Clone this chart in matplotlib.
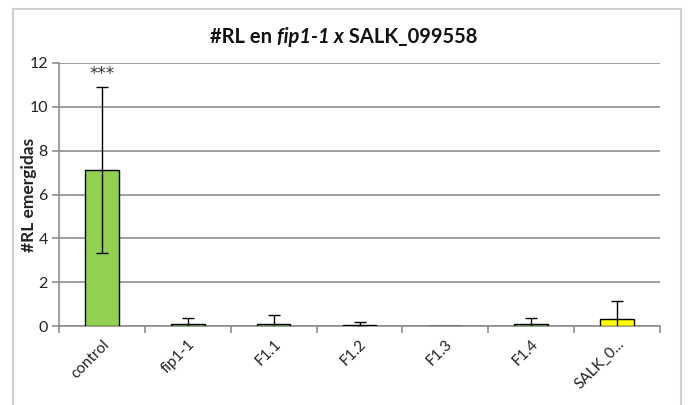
import matplotlib
matplotlib.use("Agg")
import matplotlib.pyplot as plt
from matplotlib.patches import Rectangle
import numpy as np

categories = ["control", "fip1-1", "F1.1", "F1.2", "F1.3", "F1.4", "SALK_0..."]
values = [7.12, 0.08, 0.08, 0.06, 0.0, 0.08, 0.33]
errors = [3.77, 0.30, 0.44, 0.12, 0.0, 0.30, 0.81]
colors = ["#92d050", "#92d050", "#92d050", "#92d050", "#92d050", "#92d050", "#ffff00"]
yticks = [0, 2, 4, 6, 8, 10, 12]
signif = "***"

plt.rcParams['font.family'] = ['Lato', 'DejaVu Sans']

fig = plt.figure(figsize=(6.88, 4.05), dpi=100)
fig.patch.set_facecolor("white")
ax = fig.add_axes([59/688, 1-326/405, (660-59)/688, (326-63)/405])

x = np.arange(len(categories))
vals = np.array(values)
errs = np.array(errors)
ax.bar(x, vals, width=0.39, color=colors, edgecolor="black", linewidth=1.0, zorder=3)
m = errs > 0
ax.errorbar(x[m], vals[m], yerr=errs[m], fmt="none", ecolor="black", elinewidth=1.0,
            capsize=4, capthick=1.0, zorder=4)
ax.text(x[0], vals[0] + errs[0] + 0.2, signif, ha="center", va="bottom",
        fontsize=12, color="#333333", family="DejaVu Sans")

ax.set_ylim(0, 12)
ax.set_xlim(-0.5, len(categories) - 0.5)
ax.set_yticks(yticks)
ax.set_yticklabels([str(v) for v in yticks], fontsize=11.5, color="#222222")
ax.yaxis.grid(True, color="#8e8e8e", linewidth=1.2, zorder=0)
ax.set_axisbelow(True)

ax.set_xticks(x)
ax.set_xticklabels(categories, rotation=45, ha="right", rotation_mode="anchor", fontsize=11,
                   color="#222222")
ax.tick_params(axis="x", which="major", length=0, pad=8)
ax.set_xticks(np.arange(-0.5, len(categories), 1.0), minor=True)
ax.tick_params(axis="x", which="minor", length=5, color="#8e8e8e", width=1.2)
ax.tick_params(axis="y", length=5, color="#8e8e8e", width=1.2, pad=3)

for s in ["top", "right"]:
    ax.spines[s].set_visible(False)
for s in ["left", "bottom"]:
    ax.spines[s].set_color("#8e8e8e")
    ax.spines[s].set_linewidth(1.2)

ax.set_ylabel("#RL emergidas", fontsize=12.5, fontweight="bold", color="#222222")
ax.yaxis.set_label_coords(-0.036, 0.5)

# outer chart frame
fig.add_artist(Rectangle((13/688, -0.05), (681-13)/688, 1-9/405 + 0.05,
                         transform=fig.transFigure, fill=False,
                         edgecolor="#d0d0d0", linewidth=1.5))

# title with italic part
parts = [("#RL en ", "normal"), ("fip1-1 x", "italic"), (" SALK_099558", "normal")]
fig.canvas.draw()
renderer = fig.canvas.get_renderer()
texts = []
widths = []
for s, style in parts:
    t = fig.text(0, 1-37/405, s, fontsize=14.5, fontweight="bold", style=style,
                 ha="left", va="center", color="#111111")
    bb = t.get_window_extent(renderer=renderer)
    texts.append(t)
    widths.append(bb.width)
total = sum(widths)
start = 344 - total / 2
cur = start
for t, w in zip(texts, widths):
    t.set_x(cur / 688)
    cur += w

fig.savefig("out.png", dpi=100, facecolor="white")
